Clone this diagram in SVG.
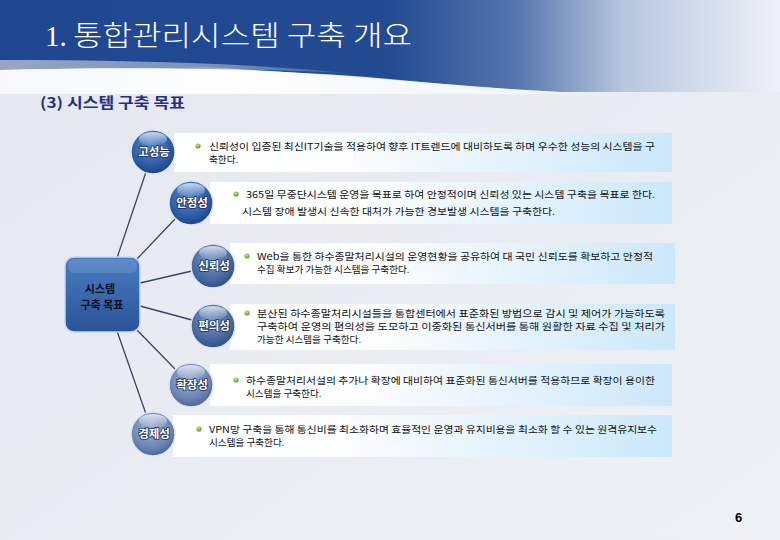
<svg xmlns="http://www.w3.org/2000/svg" width="780" height="540" viewBox="0 0 780 540">
<defs>
<linearGradient id="bg" x1="0" y1="0" x2="1" y2="1">
<stop offset="0" stop-color="#e4e8ef"/><stop offset="1" stop-color="#eef1f5"/>
</linearGradient>
<linearGradient id="hdr" x1="0" y1="0" x2="1" y2="0">
<stop offset="0" stop-color="#1f4690"/><stop offset="0.5" stop-color="#234b92"/><stop offset="0.66" stop-color="#5575ad"/><stop offset="0.8" stop-color="#b8c6de"/><stop offset="1" stop-color="#eef2f8"/>
</linearGradient>
<linearGradient id="swoosh" x1="0" y1="0" x2="1" y2="0">
<stop offset="0" stop-color="#ffffff" stop-opacity="0.7"/><stop offset="0.4" stop-color="#ffffff" stop-opacity="0.95"/><stop offset="1" stop-color="#ffffff" stop-opacity="0.3"/>
</linearGradient>
<linearGradient id="shade" x1="0" y1="0" x2="1" y2="0">
<stop offset="0" stop-color="#9aa6c2"/><stop offset="0.5" stop-color="#7f93bb"/><stop offset="1" stop-color="#c8d2e4" stop-opacity="0"/>
</linearGradient>
<linearGradient id="box" x1="0" y1="0" x2="1" y2="0">
<stop offset="0" stop-color="#ffffff"/><stop offset="0.35" stop-color="#fbfdff"/><stop offset="1" stop-color="#cbe8fb"/>
</linearGradient>
<radialGradient id="c1" cx="0.45" cy="0.35" r="0.65">
<stop offset="0" stop-color="#5a8ad0"/><stop offset="0.7" stop-color="#2d5ca6"/><stop offset="1" stop-color="#1c4387"/>
</radialGradient>
<radialGradient id="c2" cx="0.45" cy="0.35" r="0.65">
<stop offset="0" stop-color="#7596c8"/><stop offset="0.7" stop-color="#48699f"/><stop offset="1" stop-color="#324f85"/>
</radialGradient>
<radialGradient id="c3" cx="0.45" cy="0.35" r="0.65">
<stop offset="0" stop-color="#9ab0d4"/><stop offset="0.7" stop-color="#6d86b4"/><stop offset="1" stop-color="#4d6697"/>
</radialGradient>
<linearGradient id="shine" x1="0" y1="0" x2="0" y2="1">
<stop offset="0" stop-color="#ffffff" stop-opacity="0.75"/><stop offset="1" stop-color="#ffffff" stop-opacity="0"/>
</linearGradient>
<linearGradient id="ctr" x1="0" y1="0" x2="0" y2="1">
<stop offset="0" stop-color="#4a7cc2"/><stop offset="1" stop-color="#2a5496"/>
</linearGradient>
<radialGradient id="dot" cx="0.4" cy="0.35" r="0.6">
<stop offset="0" stop-color="#c8eb8a"/><stop offset="1" stop-color="#5e9e26"/>
</radialGradient>
</defs>
<style>
.t{font-family:"Noto Sans CJK KR","Liberation Sans",sans-serif;font-size:9.6px;fill:#111;}
.lbl{font-family:"Noto Sans CJK KR","Liberation Sans",sans-serif;font-size:11.5px;font-weight:bold;fill:#fff;text-anchor:middle;stroke:#1b2f5e;stroke-width:1.6px;paint-order:stroke;}
.ctrt{font-family:"Noto Sans CJK KR","Liberation Sans",sans-serif;font-size:11px;font-weight:bold;fill:#0a0f24;text-anchor:middle;}
.conn{stroke:#34466a;stroke-width:1.3;fill:none;}
.ring{stroke:#dde6f3;stroke-width:1.5;}
</style>
<rect width="780" height="540" fill="url(#bg)"/>
<!-- header -->
<path d="M0,0 H780 V92 L560,92 C440,86 260,64 0,60 Z" fill="url(#hdr)"/>
<path d="M0,60 C140,60 260,64 360,74 C300,70 150,66 0,70 Z" fill="url(#shade)"/>
<path d="M0,70 C150,66 300,70 400,80 C470,87 540,92 620,94 L0,94 Z" fill="url(#swoosh)"/>
<text x="45" y="46" font-family="'Liberation Serif','Noto Sans CJK KR',serif" font-size="29" fill="#ffffff">1.</text>
<text x="73" y="46" font-family="'Noto Sans CJK KR',sans-serif" font-size="28" font-weight="300" fill="#ffffff" textLength="339" lengthAdjust="spacingAndGlyphs">통합관리시스템 구축 개요</text>
<text x="40" y="108" font-family="'Noto Sans CJK KR','Liberation Sans',sans-serif" font-size="14.5" font-weight="bold" fill="#27307f" textLength="145" lengthAdjust="spacingAndGlyphs">(3) 시스템 구축 목표</text>
<!-- connectors -->
<g id="connectors">
<line class="conn" x1="117" y1="258" x2="146" y2="172"/>
<line class="conn" x1="137" y1="259" x2="175" y2="219"/>
<line class="conn" x1="140" y1="283" x2="192" y2="271"/>
<line class="conn" x1="140" y1="306" x2="192" y2="320"/>
<line class="conn" x1="137" y1="330" x2="175" y2="369"/>
<line class="conn" x1="117" y1="331" x2="146" y2="414"/>
</g>
<!-- nodes -->
<g id="node-goseongneung">
<rect x="174" y="133" width="498" height="39" fill="url(#box)"/>
<circle cx="153" cy="152" r="22" fill="url(#c1)" class="ring"/>
<ellipse cx="153" cy="139" rx="14" ry="7" fill="url(#shine)"/>
<text class="lbl" x="154" y="156">고성능</text>
<circle cx="198" cy="146" r="2.6" fill="url(#dot)"/>
<text class="t" x="209" y="150" textLength="446" lengthAdjust="spacingAndGlyphs">신뢰성이 입증된 최신IT기술을 적용하여 향후 IT트렌드에 대비하도록 하며 우수한 성능의 시스템을 구</text>
<text class="t" x="209" y="163">축한다.</text>
</g>
<g id="node-anjeongseong">
<rect x="210" y="182" width="462" height="42" fill="url(#box)"/>
<circle cx="191" cy="203" r="22" fill="url(#c1)" class="ring"/>
<ellipse cx="191" cy="190" rx="14" ry="7" fill="url(#shine)"/>
<text class="lbl" x="192" y="207">안정성</text>
<circle cx="236" cy="194" r="2.6" fill="url(#dot)"/>
<text class="t" x="246" y="198" textLength="409" lengthAdjust="spacingAndGlyphs">365일 무중단시스템 운영을 목표로 하여 안정적이며 신뢰성 있는 시스템 구축을 목표로 한다.</text>
<text class="t" x="242" y="215" textLength="313" lengthAdjust="spacingAndGlyphs">시스템 장애 발생시 신속한 대처가 가능한 경보발생 시스템을 구축한다.</text>
</g>
<g id="node-sinroeseong">
<rect x="230" y="243" width="445" height="41" fill="url(#box)"/>
<circle cx="213" cy="266" r="22" fill="url(#c2)" class="ring"/>
<ellipse cx="213" cy="253" rx="14" ry="7" fill="url(#shine)"/>
<text class="lbl" x="214" y="270">신뢰성</text>
<circle cx="247" cy="256" r="2.6" fill="url(#dot)"/>
<text class="t" x="257" y="260" textLength="396" lengthAdjust="spacingAndGlyphs">Web을 통한 하수종말처리시설의 운영현황을 공유하여 대 국민 신뢰도를 확보하고 안정적</text>
<text class="t" x="257" y="273">수집 확보가 가능한 시스템을 구축한다.</text>
</g>
<g id="node-pyeonuiseong">
<rect x="230" y="304" width="445" height="46" fill="url(#box)"/>
<circle cx="213" cy="326" r="22" fill="url(#c2)" class="ring"/>
<ellipse cx="213" cy="313" rx="14" ry="7" fill="url(#shine)"/>
<text class="lbl" x="214" y="330">편의성</text>
<circle cx="247" cy="313" r="2.6" fill="url(#dot)"/>
<text class="t" x="257" y="317" textLength="408" lengthAdjust="spacingAndGlyphs">분산된 하수종말처리시설들을 통합센터에서 표준화된 방법으로 감시 및 제어가 가능하도록</text>
<text class="t" x="257" y="330" textLength="408" lengthAdjust="spacingAndGlyphs">구축하여 운영의 편의성을 도모하고 이중화된 통신서버를 통해 원활한 자료 수집 및 처리가</text>
<text class="t" x="257" y="343">가능한 시스템을 구축한다.</text>
</g>
<g id="node-hwakjangseong">
<rect x="210" y="364" width="462" height="42" fill="url(#box)"/>
<circle cx="191" cy="385" r="22" fill="url(#c3)" class="ring"/>
<ellipse cx="191" cy="372" rx="14" ry="7" fill="url(#shine)"/>
<text class="lbl" x="192" y="389">확장성</text>
<circle cx="236" cy="380" r="2.6" fill="url(#dot)"/>
<text class="t" x="246" y="384" textLength="409" lengthAdjust="spacingAndGlyphs">하수종말처리서설의 추가나 확장에 대비하여 표준화된 통신서버를 적용하므로 확장이 용이한</text>
<text class="t" x="246" y="397">시스템을 구축한다.</text>
</g>
<g id="node-gyeongjeseong">
<rect x="173" y="415" width="499" height="42" fill="url(#box)"/>
<circle cx="153" cy="434" r="22" fill="url(#c3)" class="ring"/>
<ellipse cx="153" cy="421" rx="14" ry="7" fill="url(#shine)"/>
<text class="lbl" x="154" y="438">경제성</text>
<circle cx="199" cy="429" r="2.6" fill="url(#dot)"/>
<text class="t" x="209" y="433" textLength="448" lengthAdjust="spacingAndGlyphs">VPN망 구축을 통해 통신비를 최소화하며 효율적인 운영과 유지비용을 최소화 할 수 있는 원격유지보수</text>
<text class="t" x="209" y="446">시스템을 구축한다.</text>
</g>
<g id="node-center">
<rect x="65" y="257" width="75" height="75" rx="9" fill="url(#ctr)" stroke="#c9d8ee" stroke-width="1.5"/>
<rect x="68" y="259" width="69" height="14" rx="6" fill="#ffffff" opacity="0.12"/>
<text class="ctrt" x="100" y="293">시스템</text>
<text class="ctrt" x="102" y="309">구축 목표</text>
</g>
<text x="735" y="522" font-family="'Liberation Sans',sans-serif" font-size="13" font-weight="bold" fill="#000">6</text>
</svg>
